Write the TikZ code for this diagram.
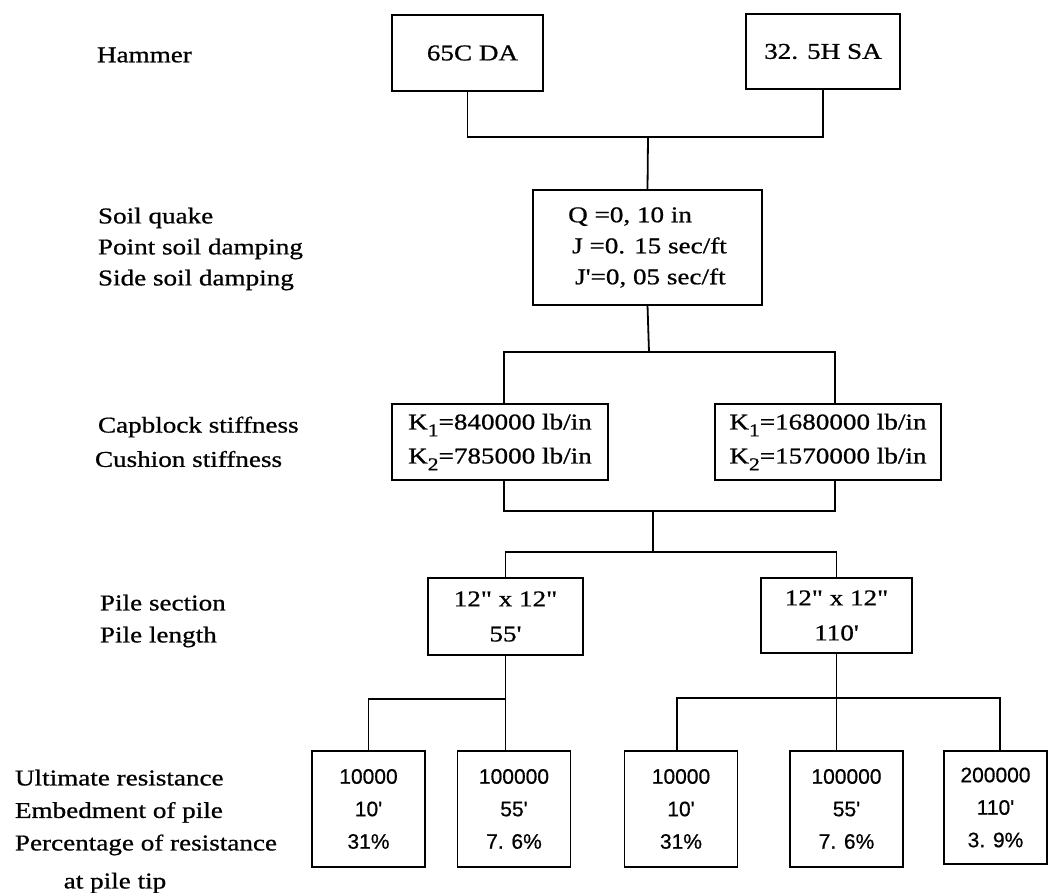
\documentclass[tikz,border=0pt]{standalone}
\usepackage{fontspec}
\setmainfont{Liberation Serif}[FakeStretch=1.2,FakeBold=0.8,Ligatures=TeXOff]
\newfontfamily\numfont{Liberation Sans}[FakeBold=0.6,Ligatures=TeXOff]
% lowered index digit used for the stiffness symbols
\newcommand{\ksub}[1]{\raisebox{-0.65ex}{\fontsize{18}{18}\selectfont #1}}

\begin{document}
\begin{tikzpicture}[x=1pt,y=-1pt,
  every node/.style={inner sep=0pt, outer sep=0pt},
  txt/.style={font=\fontsize{22.6}{31}\selectfont},
  lbl/.style={txt, anchor=west, align=left},
  box/.style={draw, line width=1.8pt, txt, align=center},
  numbox/.style={box, minimum width=113pt, minimum height=116pt,
                 font=\numfont\fontsize{21}{32.5}\selectfont},
  conn/.style={line width=1.8pt}]
\useasboundingbox (0,0) rectangle (1050,892);

% ---- hammers
\node[lbl] (lham) at (97,55) {Hammer};
\node[box, minimum width=151pt, minimum height=76pt] (h1) at (467.5,53) {\hspace*{10pt}65C DA};
\node[box, minimum width=154pt, minimum height=75pt] (h2) at (823,51.5) {32. 5H SA};

% ---- soil parameters
\node[lbl] (lsoil) at (98,249) {Soil quake\\Point soil damping\\Side soil damping};
\node[box, minimum width=229pt, minimum height=115pt, align=left] (soil) at (647.5,247.5)
  {Q =0, 10 in\\\hspace*{4pt}J =0. 15 sec/ft\\\hspace*{7pt}J'=0, 05 sec/ft};

% ---- capblock / cushion
\node[lbl] (lcap) at (98,427) {Capblock stiffness};
\node[lbl] (lcush) at (95,459) {Cushion stiffness};
\node[box, minimum width=216pt, minimum height=76pt, font=\fontsize{22.6}{34}\selectfont] (kl) at (500,442)
  {K\ksub{1}=840000 lb/in\\K\ksub{2}=785000 lb/in};
\node[box, minimum width=226pt, minimum height=76pt, font=\fontsize{22.6}{34}\selectfont] (kr) at (828,442)
  {K\ksub{1}=1680000 lb/in\\K\ksub{2}=1570000 lb/in};

% ---- piles
\node[lbl, font=\fontsize{22.6}{32}\selectfont] (lpile) at (100,621) {Pile section\\Pile length};
\node[box, minimum width=155pt, minimum height=77pt, font=\fontsize{22.6}{35}\selectfont] (pl) at (505.5,616.5)
  {12" x 12"\\55'};
\node[box, minimum width=151pt, minimum height=75pt, font=\fontsize{22.6}{35}\selectfont] (pr) at (836.5,615.5)
  {12" x 12"\\110'};

% ---- resistance cases
\node[lbl, font=\fontsize{22.6}{32.5}\selectfont] (lres) at (15,812.5)
  {Ultimate resistance\\Embedment of pile\\Percentage of resistance};
\node[txt] (ltip) at (115,883) {at pile tip};
\node[numbox] (bA) at (368.5,809) {10000\\10'\\31\%};
\node[numbox] (bB) at (514,809) {100000\\55'\\7. 6\%};
\node[numbox] (bC) at (681,809) {10000\\10'\\31\%};
\node[numbox] (bD) at (846.5,809) {100000\\55'\\7. 6\%};
\node[numbox, minimum width=103pt, minimum height=113pt] (bE) at (995.5,807.5) {200000\\110'\\3. 9\%};

% ---- connectors
\coordinate (j1) at (648,137);
\coordinate (j2) at (649,352);
\coordinate (j3) at (653,511);
\coordinate (j4) at (653,552);
\coordinate (j5) at (505.5,699);
\coordinate (j6) at (836.5,698);

\draw[conn] (h1.south) |- (j1) -| (h2.south);
\draw[conn] (j1) -- (soil.north);
\draw[conn] (soil.south) -- (j2);
\draw[conn] ([xshift=4pt]kl.north) |- (j2) -| ([xshift=7pt]kr.north);
\draw[conn] ([xshift=4pt]kl.south) |- (j3) -| ([xshift=7pt]kr.south);
\draw[conn] (j3) -- (j4);
\draw[conn] (pl.north) |- (j4) -| (pr.north);
\draw[conn] (pl.south) -- (j5) -- (j5 |- bB.north);
\draw[conn] (bA.north) |- (j5);
\draw[conn] (pr.south) -- (j6) -- (j6 |- bD.north);
\draw[conn] ([xshift=-4pt]bC.north) |- (j6) -| ([xshift=4.5pt]bE.north);
\end{tikzpicture}
\end{document}
